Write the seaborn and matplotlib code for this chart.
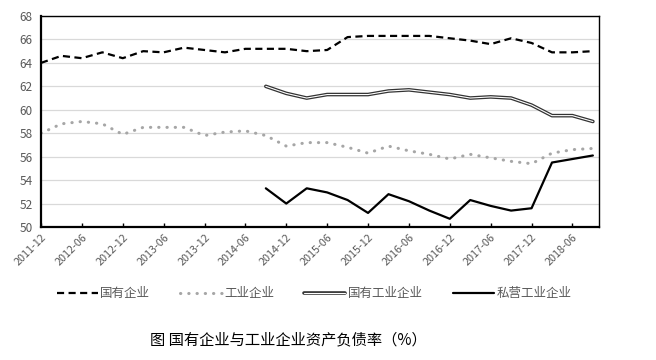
import numpy as np
import pandas as pd
import seaborn as sns
import matplotlib.pyplot as plt
import matplotlib.patheffects as pe

# 季度数据 2011-12 ~ 2018-09
tick_labels = ['2011-12', '2012-06', '2012-12', '2013-06', '2013-12', '2014-06', '2014-12',
               '2015-06', '2015-12', '2016-06', '2016-12', '2017-06', '2017-12', '2018-06']

soe = [64.0, 64.6, 64.4, 64.9, 64.4, 65.0, 64.9, 65.3, 65.1, 64.9, 65.2, 65.2, 65.2, 65.0,
       65.1, 66.2, 66.3, 66.3, 66.3, 66.3, 66.1, 65.9, 65.6, 66.1, 65.7, 64.9, 64.9, 65.0]
industry = [58.0, 58.8, 59.0, 58.8, 57.9, 58.5, 58.5, 58.5, 57.8, 58.1, 58.2, 57.8, 56.9, 57.2,
            57.2, 56.8, 56.3, 56.9, 56.5, 56.2, 55.8, 56.2, 55.9, 55.6, 55.4, 56.3, 56.6, 56.7]
# 国有工业企业、私营工业企业 从 2014-09 开始
soe_industry = [62.0, 61.4, 61.0, 61.3, 61.3, 61.3, 61.6, 61.7, 61.5, 61.3, 61.0, 61.1, 61.0,
                60.4, 59.5, 59.5, 59.0]
private_industry = [53.3, 52.0, 53.3, 52.95, 52.3, 51.2, 52.8, 52.2, 51.4, 50.7, 52.3, 51.8, 51.4,
                    51.6, 55.5, 55.8, 56.1]

q_all = np.arange(len(soe))
q_late = np.arange(len(soe) - len(soe_industry), len(soe))

sns.set_theme(style='white')
plt.rcParams['font.family'] = ['Noto Sans CJK SC', 'DejaVu Sans']

fig = plt.figure(figsize=(6.56, 3.6), dpi=100)
ax = fig.add_axes([41 / 656, 133 / 360, 558 / 656, 211 / 360])

ax.yaxis.grid(True, color='#d9d9d9', lw=0.9)
ax.set_axisbelow(True)

sns.lineplot(x=q_all, y=soe, ax=ax, color='black', lw=1.6, label='国有企业',
             linestyle=(0, (3.2, 2.0)))

sns.lineplot(x=q_all, y=industry, ax=ax, color='#a6a6a6', lw=2.2, label='工业企业',
             linestyle=(0, (0.1, 2.6)), dash_capstyle='round')

# 双线效果
sns.lineplot(x=q_late, y=soe_industry, ax=ax, color='white', lw=0.8, label='国有工业企业')
ax.lines[-1].set_path_effects([pe.Stroke(linewidth=2.6, foreground='#333333'), pe.Normal()])

sns.lineplot(x=q_late, y=private_industry, ax=ax, color='black', lw=1.6, label='私营工业企业')

ax.set_xlim(0, 27.3)
ax.set_ylim(50, 68)
ax.set_yticks(np.arange(50, 69, 2))
ax.set_xticks(np.arange(0, 28, 2))
ax.set_xticklabels(tick_labels, rotation=45, ha='right', rotation_mode='anchor')
ax.tick_params(axis='x', direction='in', length=3, width=1, colors='black', labelcolor='#595959',
               labelsize=7.8, bottom=True, pad=4)
ax.tick_params(axis='y', length=0, labelcolor='#595959', labelsize=8.5, pad=6)

for s in ax.spines.values():
    s.set_color('black')
    s.set_linewidth(1.0)
ax.spines['left'].set_linewidth(1.6)
ax.spines['bottom'].set_linewidth(1.6)

ax.set_xlabel('')
ax.set_ylabel('')
ax.legend(loc='center', bbox_to_anchor=(314 / 656, 1 - 294 / 360), bbox_transform=fig.transFigure,
          ncol=4, frameon=False, fontsize=9, labelcolor='#595959', handlelength=3.3,
          handletextpad=0.2, columnspacing=2.4)

fig.text(288 / 656, 1 - 340 / 360, '图 国有企业与工业企业资产负债率（%）', ha='center', va='center',
         fontsize=11, color='black')

fig.savefig('out.png', dpi=100)
